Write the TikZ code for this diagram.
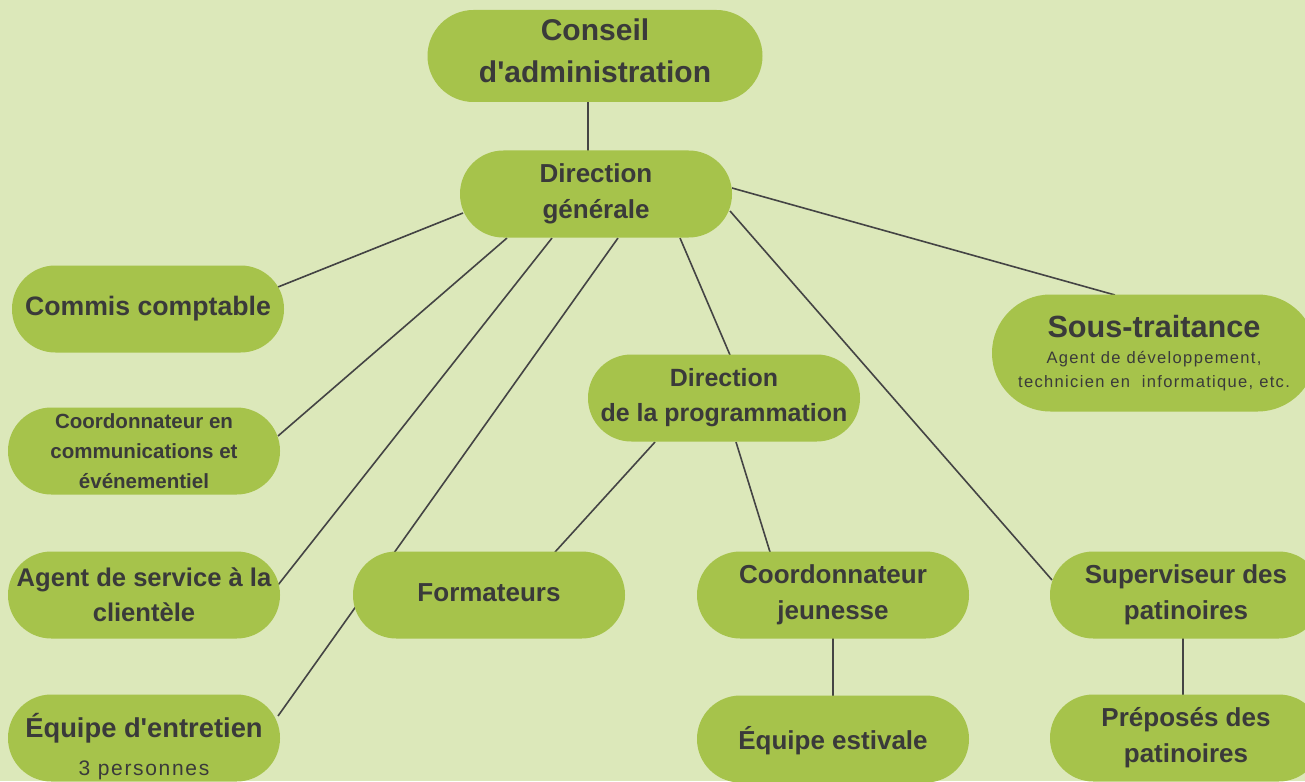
\documentclass[tikz,border=0pt]{standalone}
\usepackage{fontspec}
\setmainfont{Liberation Sans}
\newfontfamily\spaced[LetterSpace=8]{Liberation Sans}
\usetikzlibrary{calc}
\definecolor{bgcol}{RGB}{220,232,186}
\definecolor{ngreen}{RGB}{166,195,75}
\definecolor{tgray}{RGB}{58,58,58}
\definecolor{lgray}{RGB}{68,68,68}
\pgfdeclarelayer{bglayer}
\pgfdeclarelayer{edgelayer}
\pgfsetlayers{bglayer,edgelayer,main}
\newcommand\fsz[2]{\fontsize{#1}{#2}\selectfont}
\tikzset{
  pill/.style={fill=ngreen, rounded corners=32.5pt, minimum width=204pt,
    minimum height=65.25pt, inner sep=0pt, align=center, text=tgray,
    font=\bfseries\fsz{19.5pt}{27pt}},
  link/.style={draw=lgray, line width=1.2pt}
}
\begin{document}
\begin{tikzpicture}[x=0.75pt,y=-0.75pt]
\begin{pgfonlayer}{bglayer}
\fill[bgcol] (0,0) rectangle (1305,781);
\end{pgfonlayer}
\useasboundingbox (0,0) rectangle (1305,781);
\clip (0,0) rectangle (1305,781);

\node[pill, font=\bfseries\fsz{22.5pt}{31.5pt}, minimum width=251.25pt,
  minimum height=69pt, rounded corners=34.5pt] (conseil) at (595,56)
  {Conseil\\d\textquotesingle administration\rule[-7.5pt]{0pt}{0pt}};
\node[pill] (dg) at (596,194) {Direction\\générale};
\node[pill, font=\bfseries\fsz{20pt}{27pt}] (commis) at (148,309) {Commis comptable};
\node[pill, font=\bfseries\fsz{15.4pt}{22.5pt}] (comm) at (144,451)
  {Coordonnateur en\\communications et\\événementiel};
\node[pill, font=\bfseries\fsz{19.2pt}{26.25pt}] (agent) at (144,595)
  {Agent de service à la\\clientèle};
\node[pill, font=\bfseries\fsz{20.5pt}{29pt}] (entretien) at (144,738)
  {\rule{0pt}{31pt}Équipe d\textquotesingle entretien\\{\mdseries\spaced\fsz{15.75pt}{29pt}3 personnes}};
\node[pill] (form) at (489,595) {Formateurs\rule[-4pt]{0pt}{0pt}};
\node[pill, font=\bfseries\fsz{18.7pt}{26.25pt}] (dirprog) at (724,398)
  {Direction\\de la programmation};
\node[pill] (cj) at (833,595) {Coordonnateur\\jeunesse};
\node[pill] (estivale) at (833,739) {\rule{0pt}{20pt}Équipe estivale};
\node[pill] (sup) at (1186,595) {Superviseur des\\patinoires};
\node[pill] (prep) at (1186,738) {Préposés des\\patinoires};
\node[pill, minimum width=243pt, minimum height=87.75pt, rounded corners=43.8pt,
  font=\mdseries\spaced\fsz{12.4pt}{18pt}] (sous) at (1154,353)
  {{\bfseries\fsz{23pt}{27pt}\addfontfeatures{LetterSpace=0}Sous-traitance}\\[1pt]
   Agent de développement,\\technicien en~ informatique, etc.};

\begin{pgfonlayer}{edgelayer}
\draw[link] ($(conseil.center)+(-7,40)$) -- ($(dg.center)+(-8,-40)$);
\draw[link] ($(dg.center)+(-133,19)$) -- ($(commis.center)+(130,-22)$);
\draw[link] ($(dg.center)+(-89,44)$) -- ($(comm.center)+(134,-15)$);
\draw[link] ($(dg.center)+(-44,44)$) -- ($(agent.center)+(134,-10)$);
\draw[link] ($(dg.center)+(22,44)$) -- ($(entretien.center)+(134,-22)$);
\draw[link] ($(dg.center)+(84,44)$) -- ($(dirprog.center)+(6,-43)$);
\draw[link] ($(dg.center)+(134,17)$) -- ($(sup.center)+(-134,-15)$);
\draw[link] ($(dg.center)+(136,-6)$) -- ($(sous.center)+(-39,-58)$);
\draw[link] ($(dirprog.center)+(-69,44)$) -- ($(form.center)+(66,-43)$);
\draw[link] ($(dirprog.center)+(12,44)$) -- ($(cj.center)+(-63,-43)$);
\draw[link] ($(cj.center)+(0,40)$) -- ($(estivale.center)+(0,-40)$);
\draw[link] ($(sup.center)+(-3,40)$) -- ($(prep.center)+(-3,-40)$);
\end{pgfonlayer}
\end{tikzpicture}
\end{document}
